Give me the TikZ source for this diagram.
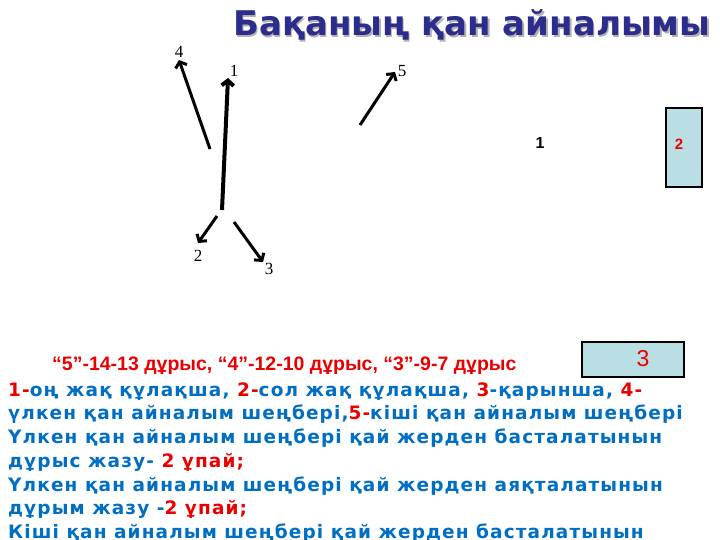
\documentclass[tikz,border=0pt]{standalone}
\usepackage{fontspec}
\setmainfont{DejaVu Sans}
\newfontfamily\bodyfont{DejaVu Sans}[LetterSpace=6]
\newfontfamily\narrowfont{Liberation Sans}
\newfontfamily\digitfont{Liberation Serif}
\newfontfamily\boxfont{Liberation Sans}
\usetikzlibrary{arrows.meta}
\definecolor{titleblue}{RGB}{44,44,140}
\definecolor{textblue}{RGB}{0,110,195}
\definecolor{markred}{RGB}{235,0,0}
\definecolor{boxfill}{RGB}{185,222,228}
\tikzset{
  arr/.style={line width=3pt,-{Straight Barb[length=5pt,width=12pt]}},
  num/.style={inner sep=0pt,font=\digitfont\fontsize{17}{17}\selectfont},
  line/.style={anchor=base west,inner sep=0pt,text=textblue,
    font=\bodyfont\bfseries\fontsize{18.5}{18.5}\selectfont},
  answer/.style={draw=black,line width=1.2pt,fill=boxfill,inner sep=0pt}
}
\newcommand{\rd}[1]{\textcolor{markred}{#1}}
\begin{document}
\begin{tikzpicture}[x=1pt,y=-1pt]
\useasboundingbox (0,0) rectangle (720,540);
\node[anchor=base west,inner sep=0pt,text=black!30,font=\bfseries\fontsize{34}{34}\selectfont]
  (shadow) at (234.5,37.5) {Бақаның қан айналымы};
\node[anchor=base west,inner sep=0pt,text=titleblue,font=\bfseries\fontsize{34}{34}\selectfont]
  (title) at (233,36) {Бақаның қан айналымы};
\coordinate (s4) at (210,149);
\coordinate (e4) at (179,60);
\coordinate (s1) at (222,210);
\coordinate (e1) at (228,78);
\coordinate (s5) at (360,125);
\coordinate (e5) at (395,72);
\coordinate (s2) at (217,216);
\coordinate (e2) at (198,243);
\coordinate (s3) at (234,222);
\coordinate (e3) at (263,262);
\draw[arr] (s4) -- (e4);
\draw[arr,line width=4pt] (s1) -- (e1);
\draw[arr] (s5) -- (e5);
\draw[arr] (s2) -- (e2);
\draw[arr] (s3) -- (e3);
\node[num] (n4) at (179,52) {4};
\node[num] (n1) at (234,71) {1};
\node[num] (n5) at (402,71) {5};
\node[num] (n2) at (198,256) {2};
\node[num] (n3) at (269,269) {3};
\node[inner sep=0pt,font=\boxfont\bfseries\fontsize{16}{16}\selectfont] (one) at (540,143) {1};
\draw[answer] (666,108) rectangle (702,187);
\node[inner sep=0pt,text=markred,font=\boxfont\bfseries\fontsize{15}{15}\selectfont] (two) at (679,144) {2};
\draw[answer] (582,342) rectangle (684,377);
\node[inner sep=0pt,text=markred,font=\boxfont\fontsize{23}{23}\selectfont] (three) at (643,359) {3};
\node[anchor=base west,inner sep=0pt,text=markred,font=\narrowfont\bfseries\fontsize{19.5}{19.5}\selectfont]
  (score) at (52,370) {“5”-14-13 дұрыс, “4”-12-10 дұрыс, “3”-9-7 дұрыс};
\node[line] (l1) at (8,396) {\rd{1-}оң жақ құлақша, \rd{2-}сол жақ құлақша, \rd{3}-қарынша, \rd{4-}};
\node[line] (l2) at (8,419) {үлкен қан айналым шеңбері,\rd{5-}кіші қан айналым шеңбері};
\node[line] (l3) at (8,443) {Үлкен қан айналым шеңбері қай жерден басталатынын};
\node[line] (l4) at (8,467) {дұрыс жазу- \rd{2 ұпай;}};
\node[line] (l5) at (8,491) {Үлкен қан айналым шеңбері қай жерден аяқталатынын};
\node[line] (l6) at (8,514) {дұрым жазу -\rd{2 ұпай;}};
\node[line] (l7) at (8,538) {Кіші қан айналым шеңбері қай жерден басталатынын};
\end{tikzpicture}
\end{document}
